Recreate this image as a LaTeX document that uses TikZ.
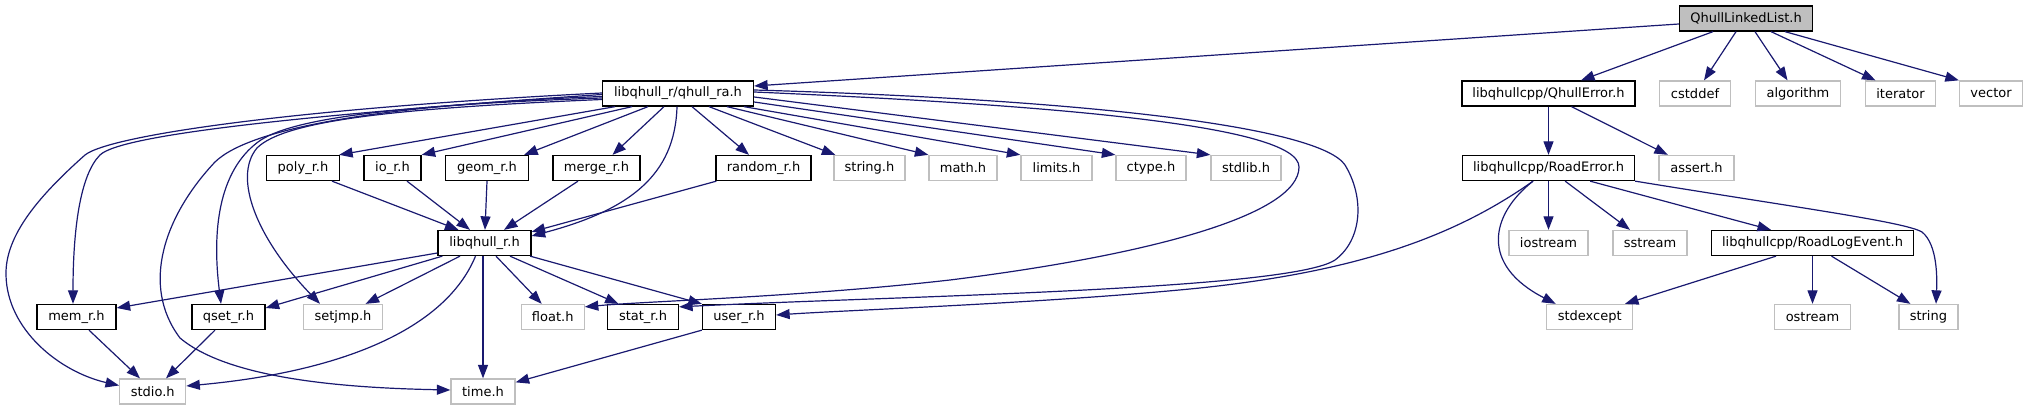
\documentclass[tikz,border=0pt]{standalone}
\usepackage{fontspec}
\newfontfamily\hfont{DejaVu Sans}
\usetikzlibrary{arrows.meta,calc}
\definecolor{edgeblue}{RGB}{25,25,112}
\definecolor{sysgray}{RGB}{191,191,191}
\begin{document}
\begin{tikzpicture}[x=1pt,y=-1pt,
  hdr/.style={draw=black, line width=1.3pt, minimum height=25pt, inner sep=0pt, fill=white,
    font=\hfont\fontsize{13pt}{15pt}\selectfont},
  sys/.style={hdr, draw=sysgray},
  root/.style={hdr, fill=sysgray},
  dep/.style={draw=edgeblue, line width=1.2pt, -{Triangle[length=13.5pt,width=10pt]}, fill=none}]
\path[use as bounding box] (0,0) rectangle (2028,411);

% nodes
\node[root, minimum width=133pt] (qll) at (1746,18.5) {QhullLinkedList.h};
\node[hdr, minimum width=151pt] (qra) at (678,93.5) {libqhull\_r/qhull\_ra.h};
\node[hdr, minimum width=173pt] (qerr) at (1548.5,93.5) {libqhullcpp/QhullError.h};
\node[sys, minimum width=71pt] (cstddef) at (1695,93.5) {cstddef};
\node[sys, minimum width=85pt] (algorithm) at (1798,93.5) {algorithm};
\node[sys, minimum width=70pt] (iterator) at (1900.5,93.5) {iterator};
\node[sys, minimum width=63pt] (vector) at (1991,93.5) {vector};

\node[hdr, minimum width=73pt] (poly) at (303,168) {poly\_r.h};
\node[hdr, minimum width=57pt] (io) at (392.5,168) {io\_r.h};
\node[hdr, minimum width=83pt] (geom) at (487,168) {geom\_r.h};
\node[hdr, minimum width=87pt] (merge) at (596.5,168) {merge\_r.h};
\node[hdr, minimum width=95pt] (random) at (763.5,168) {random\_r.h};
\node[sys, minimum width=71pt] (stringh) at (869.5,168) {string.h};
\node[sys, minimum width=68pt] (math) at (963,168) {math.h};
\node[sys, minimum width=71pt] (limits) at (1056.5,168) {limits.h};
\node[sys, minimum width=70pt] (ctype) at (1151,168) {ctype.h};
\node[sys, minimum width=70pt] (stdlib) at (1246,168) {stdlib.h};
\node[hdr, minimum width=172pt] (roaderr) at (1548.5,168) {libqhullcpp/RoadError.h};
\node[sys, minimum width=75pt] (assert) at (1696.5,168) {assert.h};

\node[hdr, minimum width=93pt] (libq) at (484.5,243) {libqhull\_r.h};
\node[sys, minimum width=79pt] (iostream) at (1548.5,243) {iostream};
\node[sys, minimum width=74pt] (sstream) at (1650,243) {sstream};
\node[hdr, minimum width=202pt] (rle) at (1812.5,243) {libqhullcpp/RoadLogEvent.h};

\node[hdr, minimum width=79pt] (mem) at (76.5,317) {mem\_r.h};
\node[hdr, minimum width=73pt] (qset) at (228.5,317) {qset\_r.h};
\node[sys, minimum width=79pt] (setjmp) at (343,317) {setjmp.h};
\node[sys, minimum width=63pt] (float) at (552.7,317) {float.h};
\node[hdr, minimum width=71pt] (stat) at (643,317) {stat\_r.h};
\node[hdr, minimum width=73pt] (user) at (739,317) {user\_r.h};
\node[sys, minimum width=86pt] (stdexcept) at (1589.7,317) {stdexcept};
\node[sys, minimum width=76pt] (ostream) at (1812.5,317) {ostream};
\node[sys, minimum width=59pt] (strng) at (1928.4,317) {string};

\node[sys, minimum width=66pt] (stdio) at (152.7,391.5) {stdio.h};
\node[sys, minimum width=64pt] (time) at (483,391.5) {time.h};

% QhullLinkedList.h
\draw[dep] ($(qll.west)+(0,5.5)$) -- ($(qra.east)+(0,-7.5)$);
\draw[dep] ($(qll.south)+(-33,0)$) -- ($(qerr.north)+(32.5,0)$);
\draw[dep] ($(qll.south)+(-10,0)$) -- ($(cstddef.north)+(9,0)$);
\draw[dep] ($(qll.south)+(9,0)$) -- ($(algorithm.north)+(-10.5,0)$);
\draw[dep] ($(qll.south)+(25,0)$) -- ($(iterator.north)+(-25,0)$);
\draw[dep] ($(qll.south)+(39,0)$) -- (vector.north west);

% qhull_ra.h straight
\draw[dep] ($(qra.south)+(-63,0)$) -- ($(poly.north east)+(-1,0)$);
\draw[dep] ($(qra.south)+(-46,0)$) -- (io.north east);
\draw[dep] ($(qra.south)+(-30,0)$) -- ($(geom.north east)+(-5,0)$);
\draw[dep] ($(qra.south)+(-14,0)$) -- ($(merge.north)+(16,0)$);
\draw[dep] ($(qra.south)+(14,0)$) -- ($(random.north)+(-14.5,0)$);
\draw[dep] ($(qra.south)+(31,0)$) -- ($(stringh.north west)+(2,0)$);
\draw[dep] ($(qra.south)+(49,0)$) -- (math.north west);
\draw[dep] ($(qra.south)+(66,0)$) -- (limits.north west);
\draw[dep] ($(qra.east)+(0,8.5)$) -- (ctype.north west);
\draw[dep] ($(qra.east)+(0,3.5)$) -- (stdlib.north west);

% qhull_ra.h curves
\draw[dep] ($(qra.south)+(-1,0)$) .. controls (675,175) and (630,210) .. ($(libq.east)+(0,-7)$);
\draw[dep] ($(qra.west)+(0,1)$) .. controls (300,115) and (120,135) .. (100,155)
  .. controls (80,175) and (73,230) .. ($(mem.north)+(-3.5,0)$);
\draw[dep] ($(qra.west)+(0,-0.5)$) .. controls (300,108) and (110,135) .. (85,155)
  .. controls (40,195) and (5,235) .. (6,275)
  .. controls (7,330) and (60,372) .. ($(stdio.west)+(0,-6)$);
\draw[dep] ($(qra.west)+(0,3)$) .. controls (380,105) and (250,128) .. (215,162)
  .. controls (165,215) and (140,285) .. (180,338)
  .. controls (230,380) and (350,388) .. ($(time.west)+(0,-1.5)$);
\draw[dep] ($(qra.west)+(0,4.5)$) .. controls (400,105) and (290,118) .. (258,142)
  .. controls (218,172) and (212,232) .. ($(qset.north)+(-7.5,0)$);
\draw[dep] ($(qra.west)+(0,6)$) .. controls (400,108) and (285,120) .. (257,148)
  .. controls (232,178) and (258,240) .. ($(setjmp.north)+(-23,0)$);
\draw[dep] ($(qra.east)+(0,-1.5)$) .. controls (1050,105) and (1299,125) .. (1299,167)
  .. controls (1299,215) and (1150,255) .. (950,280)
  .. controls (800,297) and (650,301) .. ($(float.north east)+(0,3)$);
\draw[dep] ($(qra.east)+(0,-3.5)$) .. controls (1100,100) and (1320,128) .. (1345,165)
  .. controls (1365,198) and (1362,240) .. (1335,260)
  .. controls (1290,290) and (900,296) .. ($(stat.north east)+(0,3)$);

% into libqhull_r.h
\draw[dep] ($(poly.south)+(29,0)$) -- ($(libq.north)+(-26,0)$);
\draw[dep] ($(io.south)+(14.5,0)$) -- ($(libq.north)+(-14.5,0)$);
\draw[dep] (geom.south) -- ($(libq.north)+(0.5,0)$);
\draw[dep] ($(merge.south)+(-18.5,0)$) -- ($(libq.north)+(19.5,0)$);
\draw[dep] ($(random.south west)+(1,0)$) -- ($(libq.north east)+(0,2)$);

% libqhull_r.h out
\draw[dep] ($(libq.west)+(0,10)$) -- ($(mem.east)+(0,-9)$);
\draw[dep] ($(libq.south west)+(5,0)$) -- ($(qset.east)+(0,-9)$);
\draw[dep] ($(libq.south)+(-24.5,0)$) -- ($(setjmp.north)+(22.6,0)$);
\draw[dep] ($(libq.south)+(-9,0)$) .. controls (445,330) and (340,372) .. ($(stdio.east)+(0,-5.5)$);
\draw[dep] ($(libq.south)+(-1.5,0)$) -- (time.north);
\draw[dep] ($(libq.south)+(11.5,0)$) -- ($(float.north)+(-11,0)$);
\draw[dep] ($(libq.south)+(25.5,0)$) -- ($(stat.north)+(-24.4,0)$);
\draw[dep] ($(libq.south east)+(-1.5,0)$) -- (user.north west);

% lower
\draw[dep] ($(mem.south)+(12.5,0)$) -- ($(stdio.north)+(-12.7,0)$);
\draw[dep] ($(qset.south)+(-13.5,0)$) -- ($(stdio.north)+(13.3,0)$);
\draw[dep] (user.south west) -- ($(time.north east)+(0,4)$);

% libqhullcpp
\draw[dep] (qerr.south) -- (roaderr.north);
\draw[dep] ($(qerr.south)+(23,0)$) -- ($(assert.north)+(-28.7,0)$);
\draw[dep] (roaderr.south) -- (iostream.north);
\draw[dep] ($(roaderr.south)+(16.6,0)$) -- ($(sstream.north)+(-20,0)$);
\draw[dep] ($(roaderr.south)+(41.6,0)$) -- ($(rle.north)+(-41.5,0)$);
\draw[dep] (roaderr.south east) .. controls (1800,208) and (1905,222) .. (1922,232)
  .. controls (1938,245) and (1937,280) .. ($(strng.north)+(7.6,0)$);
\draw[dep] ($(roaderr.south)+(-15.5,0)$) .. controls (1490,215) and (1480,265) .. ($(stdexcept.north)+(-34,0)$);
\draw[dep] ($(roaderr.south)+(-15.5,0)$) .. controls (1450,240) and (1350,272) .. (1200,288)
  .. controls (1050,303) and (850,310) .. ($(user.east)+(0,-2)$);
\draw[dep] ($(rle.south)+(-36.5,0)$) -- ($(stdexcept.north)+(35.3,0)$);
\draw[dep] (rle.south) -- (ostream.north);
\draw[dep] ($(rle.south)+(19,0)$) -- ($(strng.north)+(-18,0)$);
\end{tikzpicture}
\end{document}
